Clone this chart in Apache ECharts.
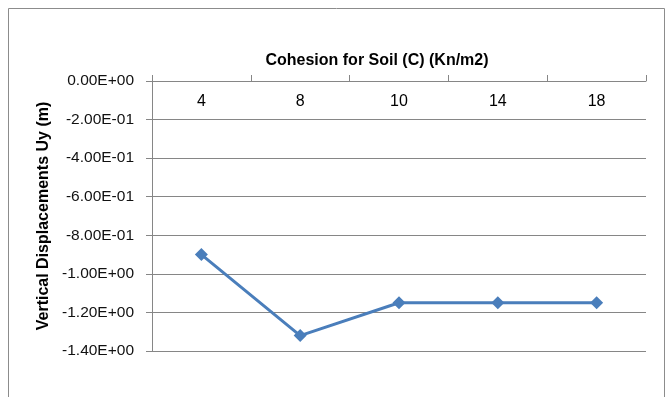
<!DOCTYPE html>
<html>
<head>
<meta charset="utf-8">
<script src="https://cdn.jsdelivr.net/npm/echarts@6/dist/echarts.min.js"></script>
<style>
  html, body { margin: 0; padding: 0; background: #fff; }
  #chart { width: 671px; height: 397px; }
</style>
</head>
<body>
<div id="chart"></div>
<script>
// cohesion values (Kn/m2) and vertical displacement Uy (m)
const categories = ['4', '8', '10', '14', '18']
const displacement = [-0.9, -1.32, -1.15, -1.15, -1.15]
const yTicks = { min: -1.4, max: 0, interval: 0.2 }

const fontFamily = 'Liberation Sans, Arial, sans-serif'

const chart = echarts.init(document.getElementById('chart'))

chart.setOption({
  animation: false,
  backgroundColor: '#fff',
  graphic: [{
    type: 'rect',
    shape: { x: 8.5, y: 8.5, width: 656, height: 400 },
    style: { fill: 'none', stroke: '#8c8c8c', lineWidth: 1 },
    silent: true
  }],
  title: {
    text: 'Cohesion for Soil (C) (Kn/m2)',
    left: 372,
    top: 48,
    textAlign: 'center',
    textStyle: { fontFamily: fontFamily, fontSize: 16, fontWeight: 'bold', color: '#000' }
  },
  grid: { left: 152, right: 25, top: 81, bottom: 46 },
  xAxis: {
    type: 'category',
    position: 'top',
    data: categories,
    boundaryGap: true,
    axisLine: { show: true, lineStyle: { color: '#868686', width: 1 } },
    axisTick: { show: true, inside: false, length: 6, lineStyle: { color: '#868686' } },
    axisLabel: {
      inside: true,
      margin: 13,
      verticalAlign: 'top',
      fontFamily: fontFamily,
      fontSize: 16,
      color: '#000'
    },
    splitLine: { show: false }
  },
  yAxis: {
    type: 'value',
    min: yTicks.min,
    max: yTicks.max,
    interval: yTicks.interval,
    name: 'Vertical Displacements Uy (m)',
    nameLocation: 'middle',
    nameGap: 97,
    nameRotate: 90,
    nameTextStyle: { fontFamily: fontFamily, fontSize: 16, fontWeight: 'bold', color: '#000' },
    axisLine: { show: true, lineStyle: { color: '#868686', width: 1 } },
    axisTick: { show: true, inside: false, length: 6, lineStyle: { color: '#868686' } },
    axisLabel: {
      margin: 18,
      fontFamily: fontFamily,
      fontSize: 15.5,
      color: '#111',
      formatter: function (v) {
        let s = Number(v).toExponential(2).toUpperCase()
        // Excel style exponent with two digits: E+00, E-01
        return s.replace(/E([+-])(\d)$/, 'E$10$2')
      }
    },
    splitLine: { show: true, lineStyle: { color: '#868686', width: 1 } }
  },
  series: [{
    type: 'line',
    data: displacement,
    symbol: 'diamond',
    symbolSize: 13,
    lineStyle: { color: '#4a7ebb', width: 3 },
    itemStyle: { color: '#4a7ebb' }
  }]
})
</script>
</body>
</html>
